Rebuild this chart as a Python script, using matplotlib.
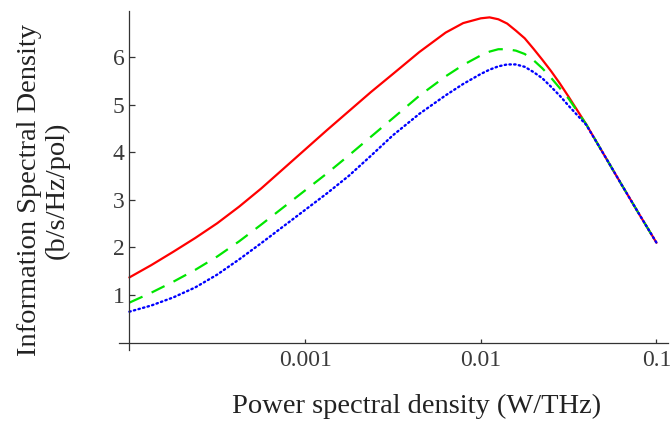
import numpy as np
import matplotlib
matplotlib.use("Agg")
import matplotlib.pyplot as plt

# log10 of power spectral density (W/THz)
psd_exp = [-4.0, -3.875, -3.75, -3.625, -3.5, -3.375, -3.25, -3.125, -3.0,
           -2.875, -2.75, -2.625, -2.5, -2.35, -2.2, -2.1, -2.0,
           -1.95, -1.9, -1.85, -1.8, -1.75, -1.7, -1.65, -1.6, -1.55, -1.5,
           -1.4, -1.3, -1.2, -1.1, -1.0]

red_isd = [1.37, 1.63, 1.91, 2.20, 2.51, 2.86, 3.24, 3.65, 4.06,
           4.47, 4.87, 5.27, 5.65, 6.11, 6.52, 6.72, 6.82,
           6.84, 6.80, 6.71, 6.56, 6.40, 6.18, 5.95, 5.71, 5.45, 5.17,
           4.59, 3.96, 3.33, 2.71, 2.10]
green_isd = [0.84, 1.05, 1.28, 1.53, 1.81, 2.13, 2.48, 2.84, 3.20,
             3.56, 3.94, 4.33, 4.72, 5.19, 5.60, 5.84, 6.04,
             6.12, 6.17, 6.17, 6.14, 6.07, 5.94, 5.77, 5.57, 5.35, 5.13,
             4.59, 3.96, 3.33, 2.71, 2.10]
blue_isd = [0.65, 0.78, 0.95, 1.16, 1.43, 1.75, 2.09, 2.44, 2.79,
            3.14, 3.51, 3.93, 4.36, 4.81, 5.20, 5.44, 5.65,
            5.74, 5.81, 5.85, 5.85, 5.80, 5.69, 5.56, 5.38, 5.19, 4.98,
            4.58, 3.96, 3.33, 2.71, 2.10]

x_ticks = [1e-3, 1e-2, 1e-1]
x_ticklabels = ["0.001", "0.01", "0.1"]
y_ticks = [1, 2, 3, 4, 5, 6]

psd = 10.0 ** np.array(psd_exp)

fig = plt.figure(figsize=(6.72, 4.22), dpi=100)
ax = fig.add_axes([119 / 672, 72 / 422, 549 / 672, 339 / 422])

ax.plot(psd, red_isd, color="#ff0000", lw=1.6, solid_capstyle="round",
        solid_joinstyle="round")
ax.plot(psd, green_isd, color="#00e600", lw=1.6, linestyle=(0, (6.5, 4.5)))
ax.plot(psd, blue_isd, color="#0000ff", lw=1.7, linestyle=(0, (0.6, 1.4)),
        dash_capstyle="round")

ax.set_xscale("log")
ax.set_xlim(10 ** -4.059, 10 ** -0.9345)
ax.set_ylim(-0.156, 6.974)

for s in ["top", "right"]:
    ax.spines[s].set_visible(False)
ax.spines["left"].set_position(("data", 1e-4))
ax.spines["bottom"].set_position(("data", 0))
for s in ["left", "bottom"]:
    ax.spines[s].set_color("#333333")
    ax.spines[s].set_linewidth(0.9)

ax.set_xticks(x_ticks)
ax.set_xticklabels(x_ticklabels)
ax.xaxis.set_minor_locator(matplotlib.ticker.NullLocator())
ax.set_yticks(y_ticks)
ax.set_yticklabels([str(v) for v in y_ticks])

for lbl in ax.get_xticklabels() + ax.get_yticklabels():
    lbl.set_fontfamily("Liberation Serif")
    lbl.set_fontsize(17)
    lbl.set_color("#3a3a3a")

ax.tick_params(axis="y", direction="in", length=4.5, width=0.9, color="#333333", pad=3.5)
ax.tick_params(axis="x", direction="in", length=3, width=0.9, color="#333333", pad=5)

fig.text(43.5 / 672, 1 - 190 / 422, "Information Spectral Density\n(b/s/Hz/pol)",
         rotation=90, ha="center", va="center", multialignment="center",
         family="Liberation Serif", fontsize=20.5, color="#222222", linespacing=1.1)
fig.text(417 / 672, 9 / 422, "Power spectral density (W/THz)", ha="center",
         va="baseline", family="Liberation Serif", fontsize=20.5, color="#222222")

fig.savefig("out.png", dpi=100)
